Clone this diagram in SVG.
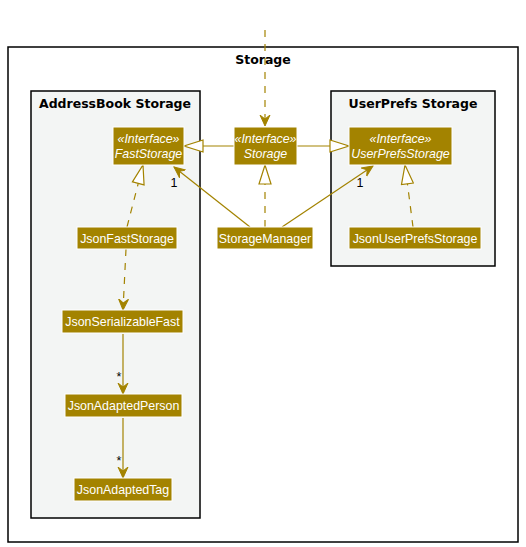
<svg xmlns="http://www.w3.org/2000/svg" width="526" height="547" viewBox="0 0 526 547">
<style>
.frame{stroke:#000;stroke-width:1.5}
.ftitle{font-family:"DejaVu Sans",sans-serif;font-size:12.5px;font-weight:bold;fill:#000;text-anchor:middle}
.node rect{fill:#A38300;stroke:#fff;stroke-width:1}
.node text{font-family:"Liberation Sans",Arial,sans-serif;font-size:12.4px;fill:#fff;text-anchor:middle}
.node text.st{font-style:italic}
.c{stroke:#A38300;stroke-width:1.2;fill:none}
.d{stroke-dasharray:7,7}
.lbl{font-family:"Liberation Sans",Arial,sans-serif;font-size:12.5px;fill:#000;text-anchor:middle}
</style>
<defs>
<marker id="open" viewBox="0 0 12 12" refX="11" refY="6" markerWidth="12" markerHeight="12" markerUnits="userSpaceOnUse" orient="auto">
<path d="M0,1 L11,6 L0,11 L4,6 Z" fill="#A38300" stroke="#A38300" stroke-width="1"/>
</marker>
<marker id="tri" viewBox="0 0 22 14" refX="20" refY="7" markerWidth="22" markerHeight="14" markerUnits="userSpaceOnUse" orient="auto">
<path d="M1,1 L20,7 L1,13 Z" fill="#fff" stroke="#A38300" stroke-width="1.2"/>
</marker>
</defs>
<rect width="526" height="547" fill="#fff"/>
<g id="frame-storage">
<rect x="8" y="47" width="510" height="495" fill="#fff" class="frame"/>
<text x="263" y="64" class="ftitle">Storage</text>
</g>
<g id="frame-addressbook">
<rect x="31" y="91" width="169" height="427" fill="#F3F5F4" class="frame"/>
<text x="115" y="108" class="ftitle">AddressBook Storage</text>
</g>
<g id="frame-userprefs">
<rect x="331" y="91" width="164" height="175" fill="#F3F5F4" class="frame"/>
<text x="413" y="108" class="ftitle">UserPrefs Storage</text>
</g>
<g id="connectors">
<line x1="265" y1="30" x2="265" y2="126" class="c d" marker-end="url(#open)"/>
<line x1="234" y1="146" x2="184" y2="146" class="c" marker-end="url(#tri)"/>
<line x1="297" y1="146" x2="349" y2="146" class="c" marker-end="url(#tri)"/>
<line x1="265" y1="227" x2="265" y2="165" class="c d" marker-end="url(#tri)"/>
<line x1="250" y1="227" x2="174" y2="167" class="c" marker-end="url(#open)"/>
<line x1="282" y1="227" x2="373" y2="166" class="c" marker-end="url(#open)"/>
<line x1="127" y1="227" x2="143" y2="165" class="c d" marker-end="url(#tri)"/>
<line x1="413" y1="227" x2="405" y2="165" class="c d" marker-end="url(#tri)"/>
<line x1="126" y1="249" x2="123" y2="310" class="c d" marker-end="url(#open)"/>
<line x1="123" y1="334" x2="123" y2="394" class="c" marker-end="url(#open)"/>
<line x1="123" y1="418" x2="123" y2="478" class="c" marker-end="url(#open)"/>
<text x="174" y="187" class="lbl">1</text>
<text x="360" y="187" class="lbl">1</text>
<text x="119" y="381" class="lbl">*</text>
<text x="119" y="465" class="lbl">*</text>
</g>
<g id="FastStorage" class="node">
<rect x="113" y="127" width="71" height="38"/>
<text x="148.5" y="143" class="st">«Interface»</text>
<text x="148.5" y="158" class="st">FastStorage</text>
</g>
<g id="Storage" class="node">
<rect x="234" y="127" width="63" height="38"/>
<text x="265.5" y="143" class="st">«Interface»</text>
<text x="265.5" y="158" class="st">Storage</text>
</g>
<g id="UserPrefsStorage" class="node">
<rect x="349" y="127" width="103" height="38"/>
<text x="400.5" y="143" class="st">«Interface»</text>
<text x="400.5" y="158" class="st">UserPrefsStorage</text>
</g>
<g id="JsonFastStorage" class="node">
<rect x="77" y="227" width="100" height="22"/>
<text x="127" y="242.5">JsonFastStorage</text>
</g>
<g id="StorageManager" class="node">
<rect x="217" y="227" width="96" height="22"/>
<text x="265" y="242.5">StorageManager</text>
</g>
<g id="JsonUserPrefsStorage" class="node">
<rect x="349" y="227" width="132" height="22"/>
<text x="415" y="242.5">JsonUserPrefsStorage</text>
</g>
<g id="JsonSerializableFast" class="node">
<rect x="62" y="310" width="121" height="23"/>
<text x="122.5" y="326">JsonSerializableFast</text>
</g>
<g id="JsonAdaptedPerson" class="node">
<rect x="65" y="394" width="117" height="23"/>
<text x="123.5" y="410">JsonAdaptedPerson</text>
</g>
<g id="JsonAdaptedTag" class="node">
<rect x="74" y="478" width="98" height="23"/>
<text x="123" y="494">JsonAdaptedTag</text>
</g>
</svg>
